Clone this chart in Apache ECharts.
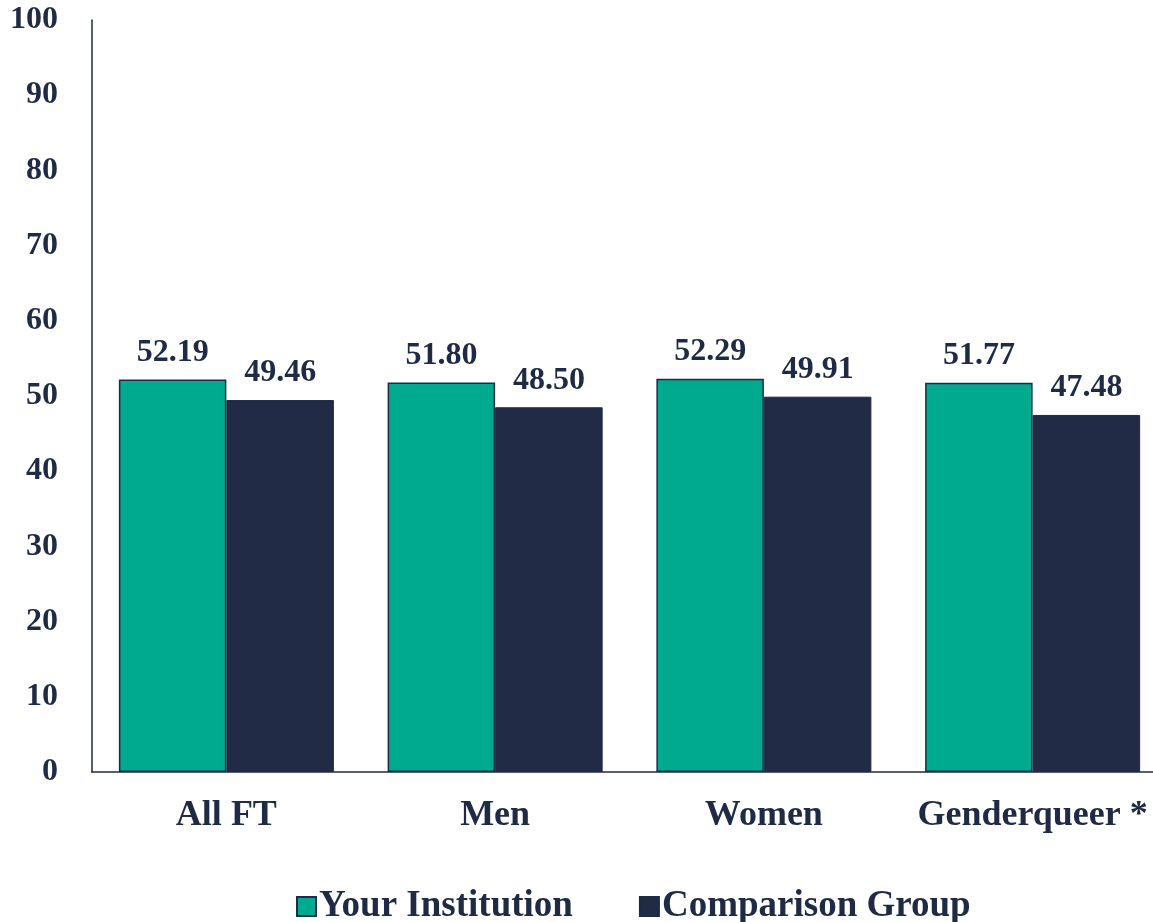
<!DOCTYPE html>
<html>
<head>
    <meta charset="utf-8">
    <title>ECharts</title>
    <script src="https://cdn.jsdelivr.net/npm/echarts@6/dist/echarts.min.js"></script>
    <style>
        body { margin: 0; background: #fff; }
    </style>
</head>
<body>
    <div id="main" style="width: 1153px;height:922px;"></div>
<script>
// data
var categories = ['All FT', 'Men', 'Women', 'Genderqueer *'];
var yourInstitution = [52.19, 51.80, 52.29, 51.77];
var comparisonGroup = [49.46, 48.50, 49.91, 47.48];
var seriesNames = ['Your Institution', 'Comparison Group'];

var ink = '#1f2a44';
var font = '"Liberation Serif", "DejaVu Serif", serif';

var myChart = echarts.init(document.getElementById('main'));

var labelStyle = {
    show: true,
    position: 'top',
    distance: 11,
    formatter: function (p) { return p.value.toFixed(2); },
    color: ink,
    fontFamily: font,
    fontWeight: 'bold',
    fontSize: 32
};

myChart.setOption({
    animation: false,
    textStyle: { fontFamily: font },
    // the category axis runs a little past the right edge in the original
    grid: { left: 92, right: -14, top: 20, bottom: 150, outerBoundsMode: 'none', containLabel: false },
    legend: {
        top: 883,
        left: 291,
        itemWidth: 19,
        itemHeight: 19,
        itemGap: 66,
        icon: 'rect',
        textStyle: { color: ink, fontFamily: font, fontWeight: 'bold', fontSize: 37, padding: [0, 0, 0, -2] },
        data: seriesNames
    },
    xAxis: {
        type: 'category',
        data: categories,
        axisLine: { lineStyle: { color: ink, width: 1.5 } },
        axisTick: { show: false },
        axisLabel: { interval: 0, margin: 26, color: ink, fontFamily: font, fontWeight: 'bold', fontSize: 36 }
    },
    yAxis: {
        type: 'value',
        min: 0,
        max: 100,
        interval: 10,
        axisLine: { show: true, lineStyle: { color: ink, width: 1.5 } },
        axisTick: { show: false },
        splitLine: { show: false },
        axisLabel: { margin: 34, color: ink, fontFamily: font, fontWeight: 'bold', fontSize: 32 }
    },
    series: [
        {
            name: seriesNames[0],
            type: 'bar',
            data: yourInstitution,
            barGap: '0%',
            barCategoryGap: '20%',
            itemStyle: { color: '#00aa8e', borderColor: ink, borderWidth: 1.5 },
            label: labelStyle
        },
        {
            name: seriesNames[1],
            type: 'bar',
            data: comparisonGroup,
            itemStyle: { color: '#212b45', borderColor: ink, borderWidth: 1 },
            label: labelStyle
        }
    ]
});
</script>
</body>
</html>
